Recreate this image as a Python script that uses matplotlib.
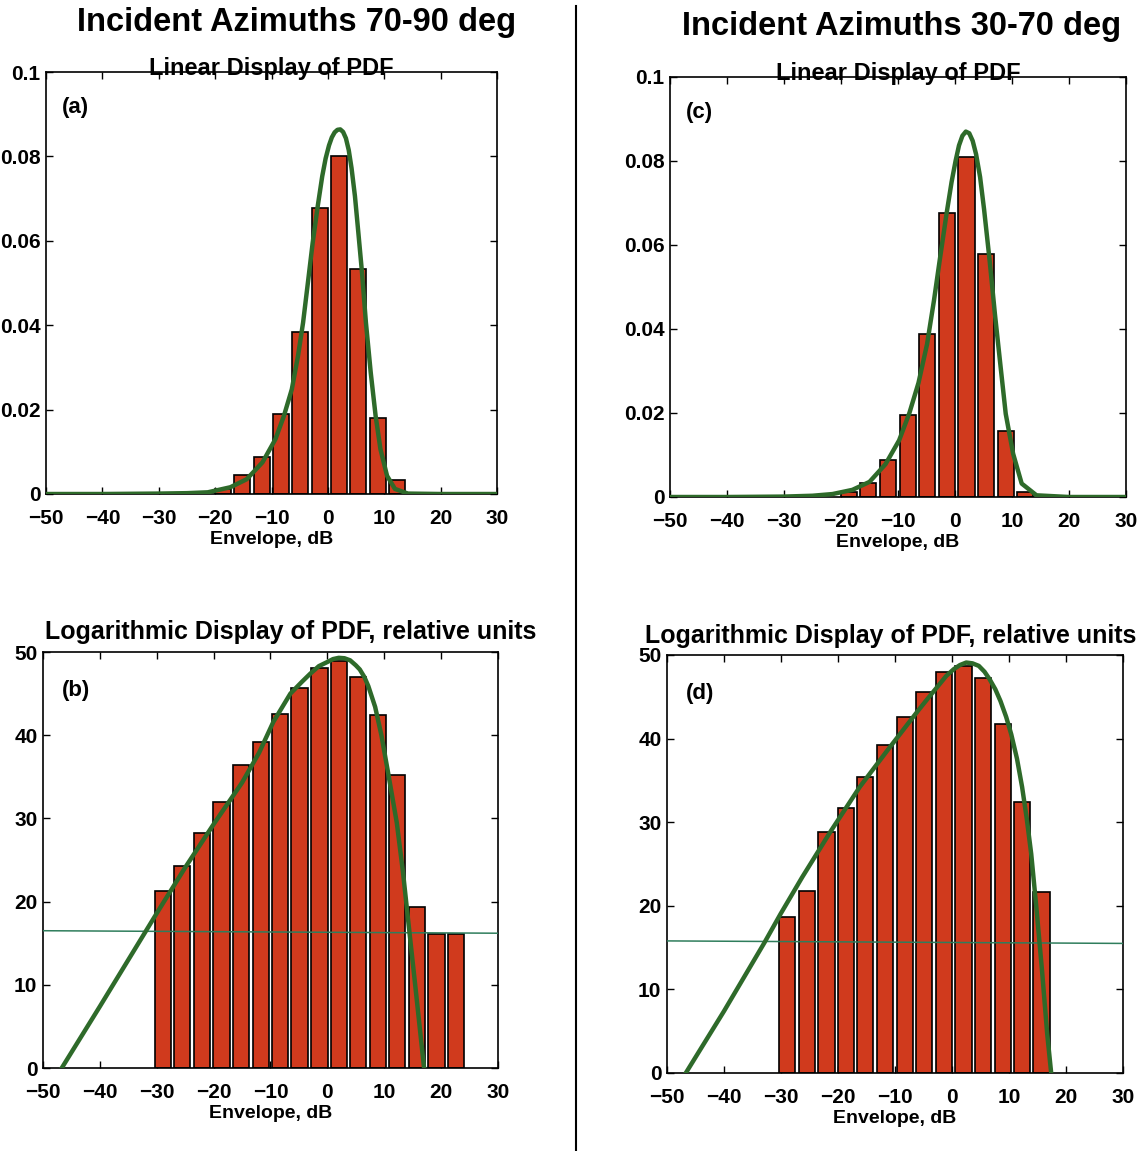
import matplotlib
matplotlib.use("Agg")
import matplotlib.pyplot as plt

plt.rcParams['font.family'] = ['Liberation Sans', 'DejaVu Sans']
plt.rcParams['font.weight'] = 'bold'

# bin centers of the envelope histogram, dB
bin_centers = [-28.9, -25.5, -22.0, -18.6, -15.2, -11.7, -8.3, -4.9,
               -1.4, 2.0, 5.4, 8.9, 12.3, 15.7, 19.2, 22.6]

# Panel (a): linear pdf, azimuths 70-90
lin_a = [0, 0, 0, 0.0013, 0.0045, 0.0087, 0.0190, 0.0384,
         0.0677, 0.0800, 0.0533, 0.0181, 0.0032, 0, 0, 0]
fit_a_x = [-50, -40, -30, -25, -21.3, -17.3, -14.4, -11.6, -9.3, -7.8, -6.4,
           -5.3, -4.4, -3.55, -2.7, -1.8, -1.0, -0.4, 0.2, 0.7, 1.2, 1.7,
           2.2, 2.7, 3.2, 3.7, 4.2, 4.8, 5.4, 6.06, 6.75, 7.6, 8.47, 9.33,
           10.5, 11.9, 14.2, 20, 30]
fit_a_y = [0, 0, 0.0001, 0.0002, 0.0004, 0.0016, 0.0035, 0.0075, 0.0130,
           0.0185, 0.0248, 0.0327, 0.0406, 0.0500, 0.0595, 0.0682, 0.0753,
           0.0795, 0.0826, 0.0845, 0.0857, 0.0863, 0.0864, 0.0858, 0.0843,
           0.0815, 0.0772, 0.0706, 0.0620, 0.0524, 0.0406, 0.0288, 0.0185,
           0.0106, 0.0043, 0.0012, 0.0001, 0, 0]

# Panel (c): linear pdf, azimuths 30-70
lin_c = [0, 0, 0, 0.0012, 0.0034, 0.0087, 0.0196, 0.0387,
         0.0676, 0.0810, 0.0578, 0.0158, 0.0013, 0, 0, 0]
fit_c_x = [-50, -40, -30, -25, -21.5, -18.0, -15.0, -12.2, -9.8, -8.0,
           -6.4, -4.9, -3.7, -2.7, -1.5, -0.6, 0.1, 0.7, 1.3, 1.9, 2.5, 3.1,
           3.7, 4.4, 5.1, 6.1, 7.0, 8.0, 8.9, 10.2, 11.7, 14.3, 20, 30]
fit_c_y = [0, 0, 0.0001, 0.0003, 0.0007, 0.0017, 0.0036, 0.0078, 0.0135,
           0.0200, 0.0272, 0.0364, 0.0467, 0.0562, 0.0673, 0.0750, 0.0800,
           0.0837, 0.0860, 0.0870, 0.0866, 0.0848, 0.0816, 0.0762, 0.0685,
           0.0560, 0.0436, 0.0310, 0.0198, 0.0103, 0.0032, 0.0004, 0, 0]

# Panel (b): log pdf, relative units
log_b = [21.3, 24.3, 28.3, 32.0, 36.4, 39.2, 42.6, 45.7,
         48.1, 48.9, 47.0, 42.4, 35.2, 19.4, 16.1, 16.1]
fit_b_x = [-46.7, -40, -35, -30, -25, -20, -15, -12, -9.5, -6.5, -4.5,
           -3, -1.5, 0, 1, 2, 3, 4, 5, 5.7, 6.5, 7.2, 8.4, 9.5, 10.7, 12.2,
           13.3, 14.4, 15.5, 17.0]
fit_b_y = [0, 7.4, 13.0, 18.6, 24.1, 29.3, 34.3, 37.9, 41.6, 45.0, 46.4,
           47.4, 48.3, 48.8, 49.15, 49.3, 49.25, 49.0, 48.4, 47.9, 47.0, 45.9,
           43.4, 40.0, 35.4, 29.5, 23.5, 16.5, 9.6, 0]
level_b_x = [-50, 30]
level_b_y = [16.5, 16.2]

# Panel (d): log pdf, relative units
log_d = [18.7, 21.8, 28.8, 31.7, 35.4, 39.2, 42.6, 45.6,
         48.0, 48.7, 47.2, 41.7, 32.4, 21.6]
fit_d_x = [-46.7, -40, -32.9, -30.1, -26.3, -21.2, -16.2, -11.1, -6.0,
           -4.0, -2.2, -1.0, 0.3, 1.4, 2.5, 3.6, 4.7, 5.7, 6.6, 7.6, 8.5,
           9.5, 10.4, 11.4, 12.3, 13.1, 13.9, 14.8, 15.8, 16.7, 17.4]
fit_d_y = [0, 7.4, 15.6, 19.0, 23.4, 29.0, 34.2, 38.8, 43.3, 45.0, 46.5,
           47.5, 48.3, 48.8, 49.1, 49.0, 48.7, 48.0, 47.1, 45.9, 44.5,
           42.6, 40.5, 37.6, 34.2, 30.5, 26.2, 19.8, 12.2, 4.7, 0]
level_d_x = [-50, 30]
level_d_y = [15.8, 15.5]

x_ticks = [-50, -40, -30, -20, -10, 0, 10, 20, 30]
lin_ticks = [0, 0.02, 0.04, 0.06, 0.08, 0.1]
lin_tick_labels = ['0', '0.02', '0.04', '0.06', '0.08', '0.1']
log_ticks = [0, 10, 20, 30, 40, 50]

BAR_COLOR = '#d03a1d'
FIT_COLOR = '#2e6a2a'
LEVEL_COLOR = '#2f7d5c'

W, H = 1146, 1151
fig = plt.figure(figsize=(W / 100, H / 100), dpi=100)


def px_axes(left, top, right, bottom):
    return fig.add_axes([left / W, 1 - bottom / H, (right - left) / W, (bottom - top) / H])


def style_axes(ax):
    ax.set_xlim(-50, 30)
    ax.set_xticks(x_ticks)
    ax.tick_params(direction='in', length=5, width=1, top=True, right=True,
                   labelsize=15)
    ax.tick_params(axis='x', pad=11)
    ax.tick_params(axis='y', pad=4)
    for s in ax.spines.values():
        s.set_linewidth(1.2)
    ax.set_xlabel('Envelope, dB', fontsize=14, fontweight='bold', labelpad=2)


def linear_panel(ax, heights, fx, fy, label):
    xs = [c for c, h in zip(bin_centers, heights) if h > 0]
    hs = [h for h in heights if h > 0]
    ax.bar(xs, hs, width=2.85, color=BAR_COLOR, edgecolor='black', linewidth=1.2, zorder=2)
    ax.plot(fx, fy, color=FIT_COLOR, linewidth=3.2, zorder=3, solid_joinstyle='round')
    style_axes(ax)
    ax.set_ylim(0, 0.1)
    ax.set_yticks(lin_ticks)
    ax.set_yticklabels(lin_tick_labels)
    ax.set_title('Linear Display of PDF', fontsize=17, fontweight='bold', pad=-2)
    ax.text(0.035, 0.915, label, transform=ax.transAxes, fontsize=16,
            fontweight='bold', va='center', ha='left')


def log_panel(ax, heights, fx, fy, lx, ly, label, title_x):
    ax.bar(bin_centers[:len(heights)], heights, width=2.85, color=BAR_COLOR,
           edgecolor='black', linewidth=1.2, zorder=2)
    ax.plot(lx, ly, color=LEVEL_COLOR, linewidth=1.1, zorder=3)
    ax.plot(fx, fy, color=FIT_COLOR, linewidth=3.2, zorder=4, solid_joinstyle='round')
    style_axes(ax)
    ax.set_ylim(0, 50)
    ax.set_yticks(log_ticks)
    ax.set_title('Logarithmic Display of PDF, relative units', fontsize=18,
                 fontweight='bold', x=title_x, pad=9)
    ax.text(0.042, 0.908, label, transform=ax.transAxes, fontsize=16,
            fontweight='bold', va='center', ha='left')


ax_a = px_axes(46, 72, 497, 494)
ax_b = px_axes(43, 652, 498, 1068)
ax_c = px_axes(670, 77, 1126, 497)
ax_d = px_axes(667, 655, 1123, 1073)

linear_panel(ax_a, lin_a, fit_a_x, fit_a_y, '(a)')
linear_panel(ax_c, lin_c, fit_c_x, fit_c_y, '(c)')
log_panel(ax_b, log_b, fit_b_x, fit_b_y, level_b_x, level_b_y, '(b)', 0.545)
log_panel(ax_d, log_d, fit_d_x, fit_d_y, level_d_x, level_d_y, '(d)', 0.49)

fig.text(297 / W, 1 - 23 / H, 'Incident Azimuths 70-90 deg', fontsize=23.5,
         fontweight='bold', ha='center', va='center')
fig.text(902 / W, 1 - 27 / H, 'Incident Azimuths 30-70 deg', fontsize=23.5,
         fontweight='bold', ha='center', va='center')

# divider between the two columns
fig.add_artist(plt.Line2D([576 / W, 576 / W], [0, 1 - 6 / H], color='black',
                          linewidth=1.5, transform=fig.transFigure))

fig.savefig('out.png', dpi=100)
